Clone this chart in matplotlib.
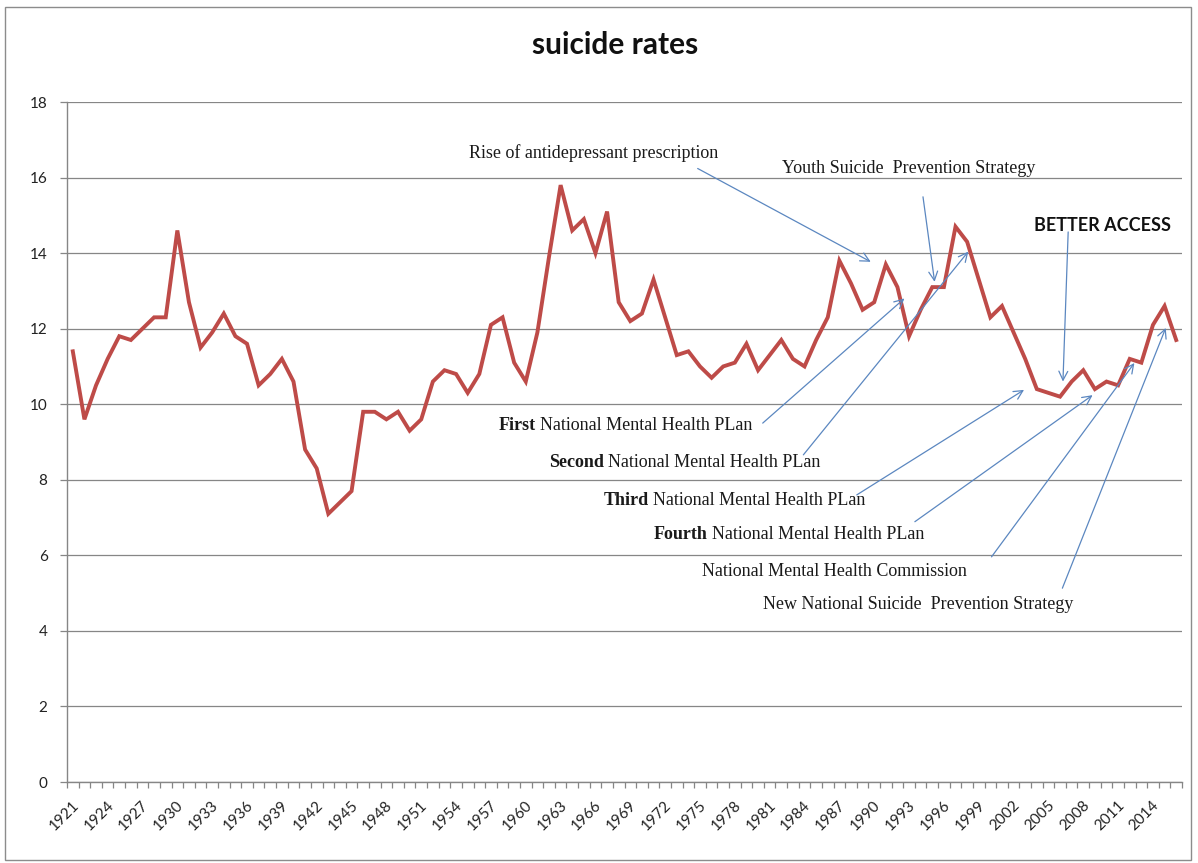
import matplotlib.pyplot as plt
import numpy as np
from matplotlib.patches import Rectangle
from matplotlib.transforms import ScaledTranslation

# suicide rate per 100,000, one value per year
years = np.arange(1921, 2017)
rates = [11.4, 9.6, 10.5, 11.2, 11.8, 11.7, 12.0, 12.3, 12.3, 14.6,
         12.7, 11.5, 11.9, 12.4, 11.8, 11.6, 10.5, 10.8, 11.2, 10.6,
         8.8, 8.3, 7.1, 7.4, 7.7, 9.8, 9.8, 9.6, 9.8, 9.3,
         9.6, 10.6, 10.9, 10.8, 10.3, 10.8, 12.1, 12.3, 11.1, 10.6,
         11.9, 13.9, 15.8, 14.6, 14.9, 14.0, 15.1, 12.7, 12.2, 12.4,
         13.3, 12.3, 11.3, 11.4, 11.0, 10.7, 11.0, 11.1, 11.6, 10.9,
         11.3, 11.7, 11.2, 11.0, 11.7, 12.3, 13.8, 13.2, 12.5, 12.7,
         13.7, 13.1, 11.8, 12.5, 13.1, 13.1, 14.7, 14.3, 13.3, 12.3,
         12.6, 11.9, 11.2, 10.4, 10.3, 10.2, 10.6, 10.9, 10.4, 10.6,
         10.5, 11.2, 11.1, 12.1, 12.6, 11.7]

label_years = years[::3]
y_ticks = np.arange(0, 19, 2)

# (bold word, rest of label, text position, arrow start, arrow tip)
notes = [
    ("", "Rise of antidepressant prescription", (1955.1, 16.65), (1974.8, 16.24), (1989.7, 13.77)),
    ("", "Youth Suicide  Prevention Strategy", (1982.1, 16.25), (1994.2, 15.49), (1995.2, 13.24)),
    ("First", "National Mental Health PLan", (1957.7, 9.45), (1980.4, 9.5), (1992.6, 12.8)),
    ("Second", "National Mental Health PLan", (1962.0, 8.47), (1983.9, 8.66), (1998.1, 14.04)),
    ("Third", "National Mental Health PLan", (1966.7, 7.46), (1988.5, 7.6), (2002.9, 10.38)),
    ("Fourth", "National Mental Health PLan", (1971.0, 6.54), (1993.5, 6.89), (2008.8, 10.24)),
    ("", "National Mental Health Commission", (1975.2, 5.56), (2000.1, 5.96), (2012.4, 11.09)),
    ("", "New National Suicide  Prevention Strategy", (1980.4, 4.71), (2006.2, 5.13), (2015.1, 12.02)),
]

W, H = 1198, 863
fig = plt.figure(figsize=(W / 100, H / 100), dpi=100)
fig.patch.set_facecolor("white")
fig.patches.append(Rectangle((5 / W, 3 / H), 1186 / W, 853 / H, transform=fig.transFigure,
                             fill=False, edgecolor="#8c8c8c", lw=1.0))

ax = fig.add_axes([67 / W, 1 - 782 / H, (1182 - 67) / W, (782 - 102) / H])

grey = "#868686"
ax.plot(years, rates, color="#be4b48", lw=2.8, solid_joinstyle="miter", zorder=3)

ax.set_xlim(1920.5, 2016.5)
ax.set_ylim(0, 18)
ax.set_yticks(y_ticks)
ax.yaxis.grid(True, color=grey, lw=0.9)
ax.set_axisbelow(True)

for side in ["top", "right"]:
    ax.spines[side].set_visible(False)
for side in ["left", "bottom"]:
    ax.spines[side].set_color(grey)
    ax.spines[side].set_linewidth(1.0)

tick_font = dict(family=["Lato", "DejaVu Sans"], size=11, color="#222222")
ax.tick_params(axis="y", direction="out", length=5, width=0.9, color=grey, pad=9)
for lab in ax.get_yticklabels():
    lab.set(**tick_font)

# tick marks sit between the yearly categories, labels every third year
ax.set_xticks(np.arange(1920.5, 2017, 1.0))
ax.set_xticklabels([])
ax.tick_params(axis="x", which="major", direction="out", length=4.5, width=0.9, color=grey)
ax.set_xticks(label_years, minor=True)
ax.set_xticklabels([str(y) for y in label_years], minor=True, rotation=45,
                   ha="right", va="center", rotation_mode="anchor", **tick_font)
ax.tick_params(axis="x", which="minor", length=0, pad=15)
shift = ScaledTranslation(4 / 100, 0, fig.dpi_scale_trans)
for lab in ax.get_xticklabels(minor=True):
    lab.set_transform(lab.get_transform() + shift)

fig.text(615 / W, 1 - 45 / H, "suicide rates", ha="center", va="center",
         family=["Lato", "DejaVu Sans"], fontweight="bold", size=21.5, color="#111111")

serif = dict(family=["Liberation Serif", "DejaVu Serif"], size=13, color="#1a1a1a")
arrow_col = "#5b87c0"
for bold, plain, pos, start, tip in notes:
    if bold:
        t = ax.text(pos[0], pos[1], bold, ha="left", va="center", fontweight="bold", **serif)
        ax.annotate(plain, xy=(1, 0), xycoords=t, xytext=(3, 0), textcoords="offset points",
                    ha="left", va="bottom", **serif)
    else:
        ax.text(pos[0], pos[1], plain, ha="left", va="center", **serif)
    ax.annotate("", xy=tip, xytext=start,
                arrowprops=dict(arrowstyle="->", color=arrow_col, lw=0.9,
                                shrinkA=0, shrinkB=0, mutation_scale=16))

ax.text(2003.8, 14.74, "BETTER ACCESS", ha="left", va="center",
        family=["Lato", "DejaVu Sans"], fontweight="bold", size=13, color="#111111")
ax.annotate("", xy=(2006.25, 10.6), xytext=(2006.7, 14.56),
            arrowprops=dict(arrowstyle="->", color=arrow_col, lw=0.9,
                            shrinkA=0, shrinkB=0, mutation_scale=16))

fig.savefig("out.png", dpi=100)
